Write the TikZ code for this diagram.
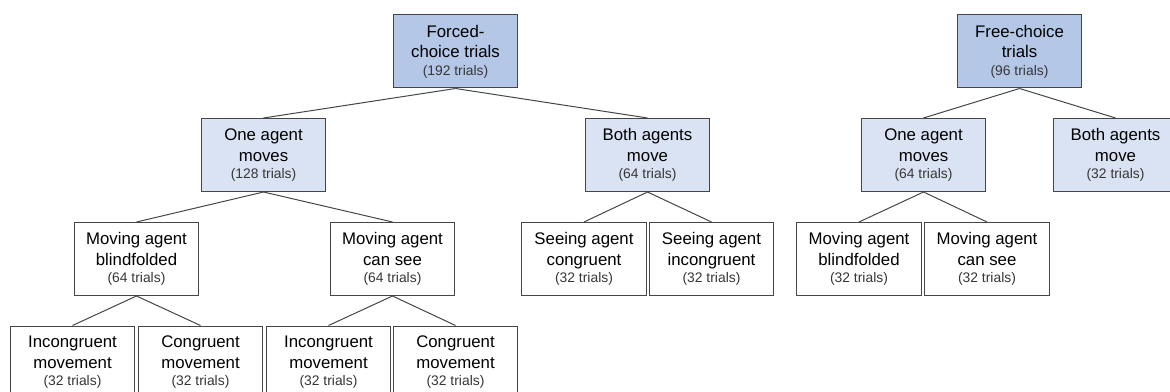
\documentclass[tikz,border=0pt]{standalone}
\usepackage{fontspec}
\setmainfont{Liberation Sans}
\definecolor{rootblue}{RGB}{180,199,231}
\definecolor{groupblue}{RGB}{218,227,243}
\definecolor{boxline}{RGB}{70,70,70}
\definecolor{counttext}{RGB}{55,55,55}
\newcommand{\ntrials}[1]{\\[-2.6pt]{\fontsize{10.4}{12}\selectfont\color{counttext}(#1 trials)}}
\tikzset{
  anybox/.style={draw=boxline, line width=0.75pt, minimum width=93.4pt,
    minimum height=54.75pt, inner sep=0pt, align=center,
    font=\fontsize{12.6}{15.5}\selectfont},
  rootbox/.style={anybox, fill=rootblue},
  groupbox/.style={anybox, fill=groupblue},
  leafbox/.style={anybox, fill=white},
}
\begin{document}
\begin{tikzpicture}[x=0.75pt, y=-0.75pt]
      \clip (0,0) rectangle (1170,392);
      \draw
        (455.5,51.5) node[rootbox] (forced){Forced-\\choice trials\ntrials{192}}
        (263.5,155) node[groupbox] (fone){One agent\\moves\ntrials{128}}
        (647.5,155) node[groupbox] (fboth){Both agents\\move\ntrials{64}}
        (136.5,259) node[leafbox] (fblind){Moving agent\\blindfolded\ntrials{64}}
        (392.5,259) node[leafbox] (fsee){Moving agent\\can see\ntrials{64}}
        (584,259) node[leafbox] (fcon){Seeing agent\\congruent\ntrials{32}}
        (711.5,259) node[leafbox] (finc){Seeing agent\\incongruent\ntrials{32}}
        (72.5,362.5) node[leafbox] (fblindinc){Incongruent\\movement\ntrials{32}}
        (200.5,362.5) node[leafbox] (fblindcon){Congruent\\movement\ntrials{32}}
        (328.5,362.5) node[leafbox] (fseeinc){Incongruent\\movement\ntrials{32}}
        (455.5,362.5) node[leafbox] (fseecon){Congruent\\movement\ntrials{32}}
        (1019.5,51.5) node[rootbox] (free){Free-choice\\trials\ntrials{96}}
        (923.5,155) node[groupbox] (rone){One agent\\moves\ntrials{64}}
        (1115.5,155) node[groupbox] (rboth){Both agents\\move\ntrials{32}}
        (859,259) node[leafbox] (rblind){Moving agent\\blindfolded\ntrials{32}}
        (987,259) node[leafbox] (rsee){Moving agent\\can see\ntrials{32}};
      \begin{scope}[-, draw=boxline, line width=0.75pt]
        \draw (forced.south) to (fone.north);
        \draw (forced.south) to (fboth.north);
        \draw (fone.south) to (fblind.north);
        \draw (fone.south) to (fsee.north);
        \draw (fboth.south) to (fcon.north);
        \draw (fboth.south) to (finc.north);
        \draw (fblind.south) to (fblindinc.north);
        \draw (fblind.south) to (fblindcon.north);
        \draw (fsee.south) to (fseeinc.north);
        \draw (fsee.south) to (fseecon.north);
        \draw (free.south) to (rone.north);
        \draw (free.south) to (rboth.north);
        \draw (rone.south) to (rblind.north);
        \draw (rone.south) to (rsee.north);
      \end{scope}
    \end{tikzpicture}
\end{document}
